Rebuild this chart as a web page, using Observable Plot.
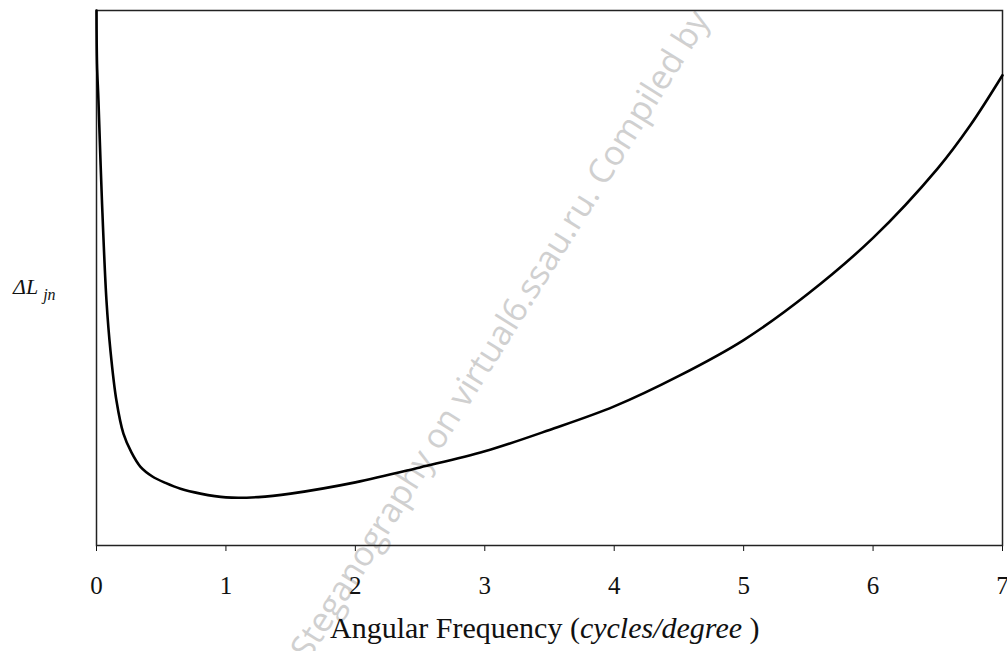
<!DOCTYPE html>
<html><head><meta charset="utf-8">
<script src="https://cdn.jsdelivr.net/npm/d3@7"></script>
<script src="https://cdn.jsdelivr.net/npm/@observablehq/plot@0.6"></script>
<style>body{margin:0;background:#fff;}</style>
</head><body><div id="chart"></div>
<script>
// Angular frequency (cycles/degree)
const freq = [0, 0.004, 0.015, 0.042, 0.077, 0.108, 0.154, 0.208, 0.27, 0.34, 0.432, 0.533, 0.649, 0.803, 1.0, 1.25, 1.5, 2.0, 2.5, 3.0, 3.5, 4.0, 4.5, 5.0, 5.5, 6.0, 6.5, 6.75, 7.0];
// ΔL_jn (arbitrary units, axis unlabeled)
const deltaL = [100, 90, 83.2, 64.5, 45.8, 36.4, 27.1, 20.9, 17.4, 14.7, 12.9, 11.7, 10.6, 9.7, 9.0, 9.05, 9.7, 11.8, 14.6, 17.6, 21.6, 26.0, 31.7, 38.4, 47.1, 57.5, 70.5, 78.5, 87.9];
const xTicks = [0, 1, 2, 3, 4, 5, 6, 7];
const xLabelParts = ["Angular Frequency (", "cycles/degree", " )"];
const yLabelParts = ["\u0394L", "jn"];
const watermarkParts = ["Steganography ", "on virtual6.ssau.ru. Compiled by"];

const data = freq.map((f, i) => ({f, v: deltaL[i]}));

const chart = Plot.plot({
  width: 1007, height: 651,
  marginTop: 10, marginBottom: 106, marginLeft: 96, marginRight: 5,
  style: {fontFamily: "'Liberation Serif', serif", fontSize: "25px", color: "#111", background: "#fff", overflow: "visible"},
  x: {domain: [0, 7], ticks: xTicks, tickSize: 6, tickPadding: 25, label: null, tickFormat: d3.format("d")},
  y: {domain: [0, 100], axis: null},
  marks: [
    Plot.frame({stroke: "#222", strokeWidth: 1.5}),
    Plot.line(data, {x: "f", y: "v", curve: "catmull-rom", stroke: "#000", strokeWidth: 2.6})
  ]
});
document.getElementById("chart").appendChild(chart);

const svg = d3.select(chart);
// x axis title with italic unit
const xl = svg.append("text").attr("x", 330).attr("y", 638).attr("text-anchor", "start")
  .attr("font-family", "'Liberation Serif', serif").attr("font-size", 30).attr("fill", "#111");
xl.append("tspan").text(xLabelParts[0]);
xl.append("tspan").attr("font-style", "italic").text(xLabelParts[1]);
xl.append("tspan").text(xLabelParts[2]);

// y axis title ΔL_jn
const yl = svg.append("text").attr("x", 13).attr("y", 294).attr("text-anchor", "start")
  .attr("font-family", "'Liberation Serif', serif").attr("font-size", 22).attr("font-style", "italic").attr("fill", "#111");
yl.append("tspan").text(yLabelParts[0]);
yl.append("tspan").attr("font-size", 16).attr("dx", 5).attr("dy", 6).text(yLabelParts[1]);

// watermark
const wm = svg.insert("g", ":first-child").attr("transform", "translate(440,452) rotate(-58)")
  .attr("font-family", "'Open Sans', sans-serif").attr("font-size", 34).attr("fill", "#d0d0d0");
wm.append("text").attr("text-anchor", "end").text(watermarkParts[0]);
wm.append("text").attr("text-anchor", "start").text(watermarkParts[1]);
</script>
</body></html>
